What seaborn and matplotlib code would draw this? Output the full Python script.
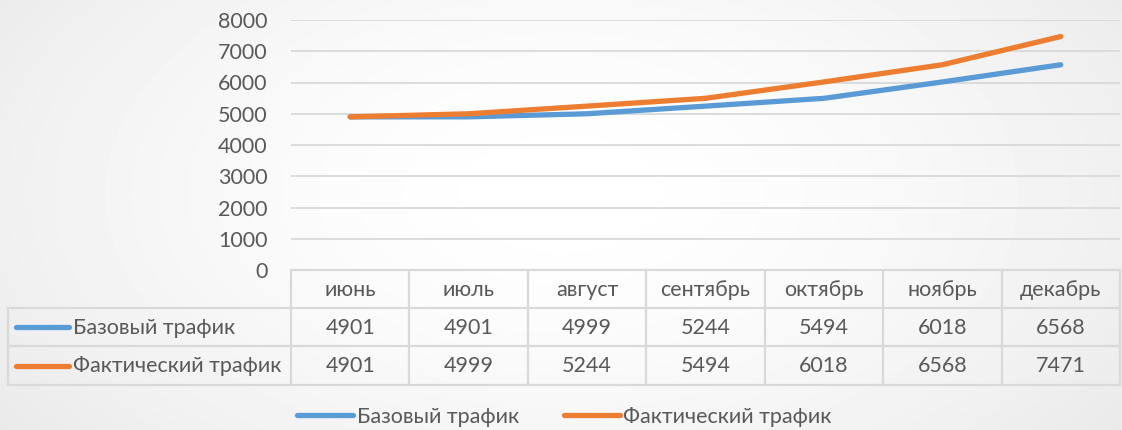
import numpy as np
import pandas as pd
import matplotlib.pyplot as plt
from matplotlib.lines import Line2D
import seaborn as sns

# --------------------------------------------
# DATA
# --------------------------------------------
months = ["июнь", "июль", "август", "сентябрь", "октябрь", "ноябрь", "декабрь"]
base = [4901, 4901, 4999, 5244, 5494, 6018, 6568]
fact = [4901, 4999, 5244, 5494, 6018, 6568, 7471]
series = ["Базовый трафик", "Фактический трафик"]
colors = ["#5b9bd5", "#ed7d31"]

# --------------------------------------------
# STYLE
# --------------------------------------------
sns.set_theme(style="white")
plt.rcParams["font.family"] = ["Lato", "DejaVu Sans"]
text_color = "#595959"
grid_color = "#d9d9d9"
fs = 15.5

W, H = 1122, 430
fig = plt.figure(figsize=(W / 100, H / 100), dpi=100)

# soft radial background like the office chart
bg = fig.add_axes([0, 0, 1, 1], zorder=-10)
yy, xx = np.mgrid[0:H, 0:W]
r = np.sqrt(((xx - W * 0.5) / (W * 0.6)) ** 2 + ((yy - H * 0.45) / (H * 0.9)) ** 2)
shade = 1 - 0.08 * np.clip(r, 0, 1.2) ** 1.6
bg.imshow(shade, cmap="gray", vmin=0, vmax=1, aspect="auto")
bg.axis("off")

# --------------------------------------------
# LINE PLOT
# --------------------------------------------
left, right = 291, 1120
top, zero = 20, 270
ax = fig.add_axes([left / W, 1 - zero / H, (right - left) / W, (zero - top) / H])
ax.set_facecolor("none")

df = pd.DataFrame({
    "x": list(range(len(months))) * 2,
    "value": base + fact,
    "series": [series[0]] * len(months) + [series[1]] * len(months),
})
sns.lineplot(data=df, x="x", y="value", hue="series", hue_order=series,
             palette=colors, linewidth=3.8, legend=False, ax=ax,
             solid_capstyle="round", solid_joinstyle="round")

ax.set_xlim(-0.5, len(months) - 0.5)
ax.set_ylim(0, 8000)
ax.set_yticks(range(0, 8001, 1000))
ax.set_xticks([])
ax.set_xlabel("")
ax.set_ylabel("")
ax.yaxis.grid(True, color=grid_color, linewidth=1.3)
ax.set_axisbelow(True)
for s in ax.spines.values():
    s.set_visible(False)
ax.tick_params(axis="y", length=0, pad=17, labelsize=fs, labelcolor=text_color)

# --------------------------------------------
# DATA TABLE
# --------------------------------------------
tab = fig.add_axes([0, 0, 1, 1], zorder=5)
tab.set_xlim(0, W)
tab.set_ylim(H, 0)
tab.axis("off")

label_left = 8
rows_y = [270, 308, 346, 385]
col_w = (right - left) / len(months)
xs = [left + i * col_w for i in range(len(months) + 1)]
lc = dict(color=grid_color, linewidth=1.6)

tab.plot([left, right], [rows_y[0]] * 2, **lc)
for y in rows_y[1:]:
    tab.plot([label_left, right], [y, y], **lc)
for x in xs:
    tab.plot([x, x], [rows_y[0], rows_y[-1]], **lc)
tab.plot([label_left, label_left], [rows_y[1], rows_y[-1]], **lc)

for i, m in enumerate(months):
    cx = xs[i] + col_w / 2
    tab.text(cx, (rows_y[0] + rows_y[1]) / 2 + 1, m, ha="center", va="center",
             fontsize=fs, color=text_color)
for j, (vals, name, c) in enumerate(zip([base, fact], series, colors)):
    cy = (rows_y[j + 1] + rows_y[j + 2]) / 2
    tab.plot([16, 69], [cy, cy], color=c, linewidth=3.8, solid_capstyle="round")
    tab.text(73, cy + 1, name, ha="left", va="center", fontsize=fs, color=text_color)
    for i, v in enumerate(vals):
        tab.text(xs[i] + col_w / 2, cy + 1, str(v), ha="center", va="center",
                 fontsize=fs, color=text_color)

# --------------------------------------------
# LEGEND
# --------------------------------------------
handles = [Line2D([], [], color=c, linewidth=3.8, solid_capstyle="round") for c in colors]
leg = fig.legend(handles, series, loc="lower center", bbox_to_anchor=(0.503, -0.038),
                 ncol=2, frameon=False, fontsize=fs, handlelength=2.6,
                 handletextpad=0.15, columnspacing=2.1)
for t in leg.get_texts():
    t.set_color(text_color)

fig.savefig("out.png", dpi=100)
